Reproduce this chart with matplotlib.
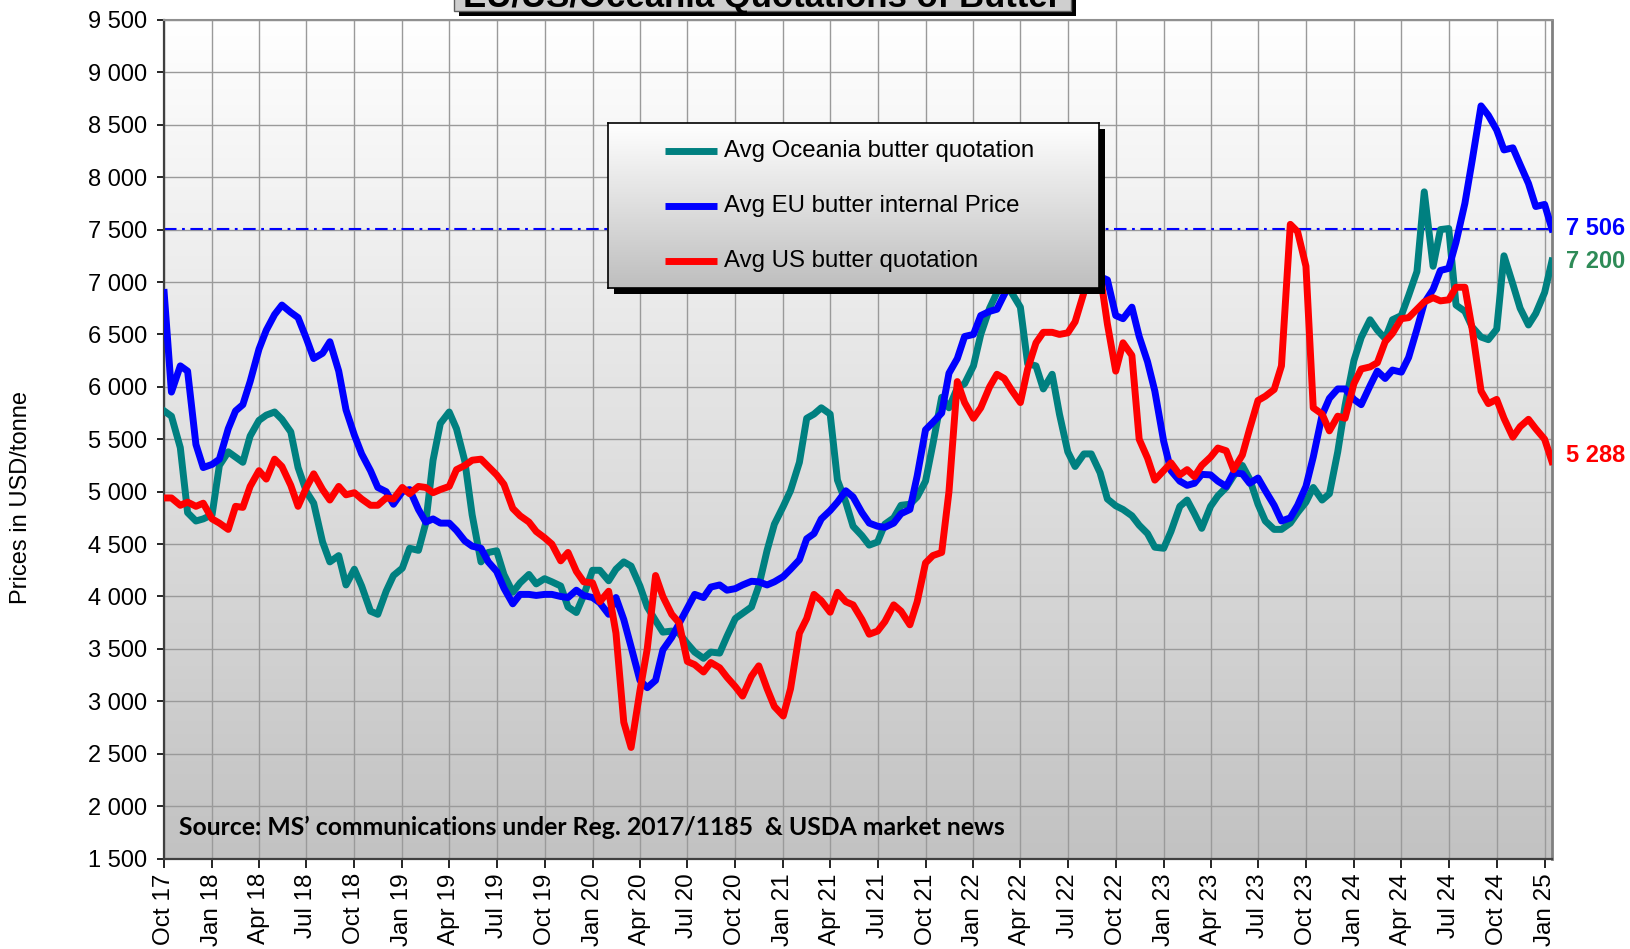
import numpy as np
import pandas as pd
import matplotlib
matplotlib.use('Agg')
import matplotlib.pyplot as plt
from matplotlib.colors import LinearSegmentedColormap
from matplotlib.patches import Rectangle
from matplotlib.ticker import FuncFormatter, MultipleLocator

plt.rcParams['font.family'] = ['Liberation Sans', 'DejaVu Sans']
plt.rcParams['lines.scale_dashes'] = False

# semi-monthly quotations, Oct 2017 - Jan 2025 (USD/tonne)
dates = pd.date_range('2017-10-01', '2025-01-15', freq='SMS')

oceania = [5770, 5720, 5420, 4800, 4720, 4740, 4780, 5250, 5380, 5330,
           5280, 5530, 5680, 5730, 5760, 5690, 5570, 5230, 5000, 4890,
           4520, 4330, 4390, 4110, 4260, 4100, 3860, 3830, 4050, 4200,
           4270, 4460, 4440, 4700, 5300, 5650, 5760, 5600, 5290, 4780,
           4330, 4420, 4436, 4210, 4040, 4130, 4210, 4120, 4170, 4140,
           4100, 3900, 3847, 4010, 4250, 4250, 4150, 4260, 4330, 4290,
           4100, 3900, 3770, 3660, 3670, 3650, 3550, 3470, 3410, 3470,
           3460, 3620, 3790, 3840, 3900, 4100, 4440, 4690, 4860, 5010,
           5280, 5700, 5740, 5800, 5740, 5110, 4900, 4670, 4580, 4490,
           4520, 4690, 4750, 4870, 4880, 4950, 5100, 5450, 5900, 5800,
           5990, 6030, 6200, 6500, 6750, 6900, 7050, 6900, 6760, 6220,
           6200, 5980, 6120, 5740, 5380, 5240, 5360, 5360, 5180, 4930,
           4865, 4830, 4770, 4680, 4600, 4470, 4460, 4620, 4860, 4920,
           4790, 4650, 4860, 4960, 5040, 5150, 5250, 5120, 4880, 4720,
           4640, 4640, 4700, 4800, 4900, 5040, 4920, 4980, 5380, 5820,
           6250, 6470, 6640, 6540, 6460, 6640, 6680, 6870, 7100, 7860,
           7150, 7500, 7510, 6780, 6720, 6570, 6475, 6450, 6550, 7250,
           6980, 6750, 6590, 6700, 6900, 7200]

eu = [6900, 5950, 6200, 6150, 5450, 5230, 5260, 5310, 5600, 5770,
      5830, 6050, 6360, 6540, 6690, 6780, 6710, 6660, 6460, 6270,
      6320, 6430, 6150, 5780, 5540, 5360, 5200, 5040, 5000, 4880,
      5000, 5020, 4830, 4710, 4740, 4700, 4700, 4630, 4530, 4480,
      4460, 4330, 4240, 4080, 3930, 4020, 4020, 4010, 4020, 4020,
      4000, 3990, 4060, 4010, 3990, 3940, 3830, 3990, 3780, 3520,
      3200, 3130, 3200, 3490, 3610, 3740, 3890, 4020, 3990, 4090,
      4110, 4060, 4075, 4110, 4145, 4140, 4110, 4140, 4190, 4260,
      4350, 4550, 4600, 4740, 4820, 4900, 5008, 4950, 4800, 4700,
      4670, 4660, 4700, 4790, 4830, 5150, 5590, 5660, 5750, 6130,
      6270, 6480, 6500, 6680, 6720, 6740, 6880, 7000, 7150, 7250,
      7300, 7350, 7300, 7250, 7200, 7150, 7100, 7100, 7050, 7020,
      6680, 6650, 6760, 6480, 6240, 5960, 5480, 5200, 5100, 5060,
      5080, 5165, 5160, 5100, 5050, 5180, 5170, 5080, 5130, 5010,
      4870, 4720, 4750, 4870, 5050, 5330, 5730, 5890, 5980, 5980,
      5880, 5830, 6010, 6150, 6080, 6160, 6140, 6280, 6550, 6800,
      6930, 7110, 7130, 7380, 7750, 8160, 8680, 8590, 8450, 8260,
      8280, 8120, 7940, 7720, 7740, 7506]

us = [4940, 4940, 4870, 4900, 4860, 4890, 4740, 4700, 4640, 4860,
      4850, 5050, 5200, 5120, 5310, 5240, 5060, 4860, 5040, 5170,
      5020, 4920, 5050, 4970, 4990, 4930, 4870, 4870, 4940, 4930,
      5040, 4980, 5050, 5040, 4990, 5020, 5050, 5210, 5250, 5300,
      5310, 5240, 5160, 5070, 4840, 4770, 4710, 4620, 4560, 4500,
      4340, 4420, 4240, 4140, 4130, 3950, 4050, 3650, 2800, 2560,
      3100, 3500, 4200, 4000, 3830, 3750, 3380, 3350, 3280, 3370,
      3320, 3230, 3140, 3050, 3240, 3338, 3120, 2950, 2860, 3120,
      3650, 3790, 4020, 3960, 3850, 4040, 3950, 3920, 3780, 3640,
      3670, 3760, 3920, 3860, 3730, 3950, 4320, 4390, 4420, 5000,
      6050, 5850, 5700, 5800, 6000, 6120, 6080, 5970, 5850, 6170,
      6420, 6520, 6520, 6500, 6515, 6620, 6900, 7030, 7080, 6600,
      6150, 6420, 6300, 5500, 5320, 5110, 5200, 5275, 5160, 5210,
      5143, 5250, 5330, 5416, 5390, 5210, 5350, 5600, 5870, 5910,
      5975, 6200, 7550, 7480, 7150, 5800, 5740, 5580, 5720, 5700,
      6030, 6170, 6190, 6230, 6430, 6510, 6650, 6660, 6740, 6810,
      6850, 6820, 6830, 6950, 6950, 6550, 5960, 5840, 5880, 5700,
      5520, 5620, 5690, 5600, 5500, 5288]

labels = ['Avg Oceania butter quotation', 'Avg EU butter internal Price',
          'Avg US butter quotation']
colors = ['#008080', '#0000ff', '#ff0000']
end_colors = ['#2e8b57', '#0000ff', '#ff0000']

title = 'EU/US/Oceania Quotations of Butter'
source = 'Source: MS\u2019 communications under Reg. 2017/1185  & USDA market news'


def spaced(v, pos=None):
    return f'{int(round(v)):,}'.replace(',', ' ')


fig = plt.figure(figsize=(16.3, 9.49), dpi=100)
ax = fig.add_axes([0.1007, 0.0953, 0.8514, 0.8837])

# grey gradient background of the plot area
grad = np.linspace(0, 1, 256).reshape(-1, 1)
bg = LinearSegmentedColormap.from_list('bg', ['#c2c2c2', '#ffffff'])
ax.imshow(grad, cmap=bg, aspect='auto', extent=[0, 1, 0, 1],
          transform=ax.transAxes, origin='lower', zorder=0)

series = [oceania, eu, us]
for vals, c in zip(series, colors):
    ax.plot(dates, vals, color=c, lw=5, solid_joinstyle='round', zorder=3)

ax.axhline(eu[-1], color='#0000ff', lw=1.5, ls=(0, (9, 4, 2, 4)), zorder=2)

ticks = pd.date_range('2017-10-01', '2025-01-01', freq='QS-OCT')
ax.set_xticks(ticks)
ax.set_xticklabels([d.strftime('%b %y') for d in ticks], rotation=90, fontsize=17.5)
ax.set_xlim(dates[0], dates[-1])
ax.set_ylim(1500, 9500)
ax.yaxis.set_major_locator(MultipleLocator(500))
ax.yaxis.set_major_formatter(FuncFormatter(spaced))
ax.tick_params(axis='y', labelsize=17, length=5, pad=7, width=1.2)
ax.tick_params(axis='x', length=6.5, pad=4, width=1.2)

ax.grid(True, color='#9a9a9a', lw=1.0)
ax.set_axisbelow(True)
ax.spines['left'].set_color('#404040')
ax.spines['bottom'].set_color('#404040')
ax.spines['left'].set_linewidth(1.6)
ax.spines['bottom'].set_linewidth(1.6)
ax.spines['top'].set_color('#909090')
ax.spines['top'].set_linewidth(1.5)
ax.spines['right'].set_color('#808080')
ax.spines['right'].set_linewidth(2)

# last values at the right edge
for vals, c, off in zip(series, end_colors, [0, 0, 4]):
    ax.annotate(spaced(vals[-1]), xy=(dates[-1], vals[-1]), xytext=(10, off),
                textcoords='offset points', va='center', ha='left',
                color=c, fontsize=17, fontweight='bold', annotation_clip=False)

ax.text(0.011, 0.037, source, transform=ax.transAxes, fontsize=17.8,
        fontweight='bold', family='Lato', va='center', zorder=4)

fig.text(21 / 1630, 0.476, 'Prices in USD/tonne', rotation=90,
         ha='center', va='center', fontsize=17)

# title box, cut by the top edge
fig.patches.append(Rectangle((459 / 1630, 1 - 16 / 949), 617 / 1630, 0.08,
                             transform=fig.transFigure, facecolor='black',
                             edgecolor='none', zorder=2))
fig.patches.append(Rectangle((454 / 1630, 1 - 11 / 949), 617 / 1630, 0.08,
                             transform=fig.transFigure, facecolor='#cfcfcf',
                             edgecolor='#606060', lw=1, zorder=2.1))
fig.text(762 / 1630, 1 - 7 / 949, title, ha='center', va='baseline',
         fontsize=25, fontweight='bold', zorder=3)

# legend box with gradient and shadow
lx, ly, lw_, lh = 608 / 1630, 1 - 288 / 949, 491 / 1630, 165 / 949
fig.patches.append(Rectangle((lx + 6 / 1630, ly - 6 / 949), lw_, lh,
                             transform=fig.transFigure, facecolor='black',
                             edgecolor='none', zorder=4))
lax = fig.add_axes([lx, ly, lw_, lh])
lax.set_zorder(5)
lbg = LinearSegmentedColormap.from_list('lbg', ['#bebebe', '#ffffff'])
lax.imshow(grad, cmap=lbg, aspect='auto', extent=[0, 1, 0, 1], origin='lower')
lax.set_xlim(0, 1)
lax.set_ylim(0, 1)
lax.set_xticks([])
lax.set_yticks([])
for s in lax.spines.values():
    s.set_color('black')
    s.set_linewidth(1.2)
for lab, c, y in zip(labels, colors, [0.83, 0.497, 0.164]):
    lax.plot([0.116, 0.222], [y, y], color=c, lw=5, solid_capstyle='butt')
    lax.text(0.237, y, lab, fontsize=17.3, va='center', ha='left')

fig.savefig('out.png', dpi=100)
